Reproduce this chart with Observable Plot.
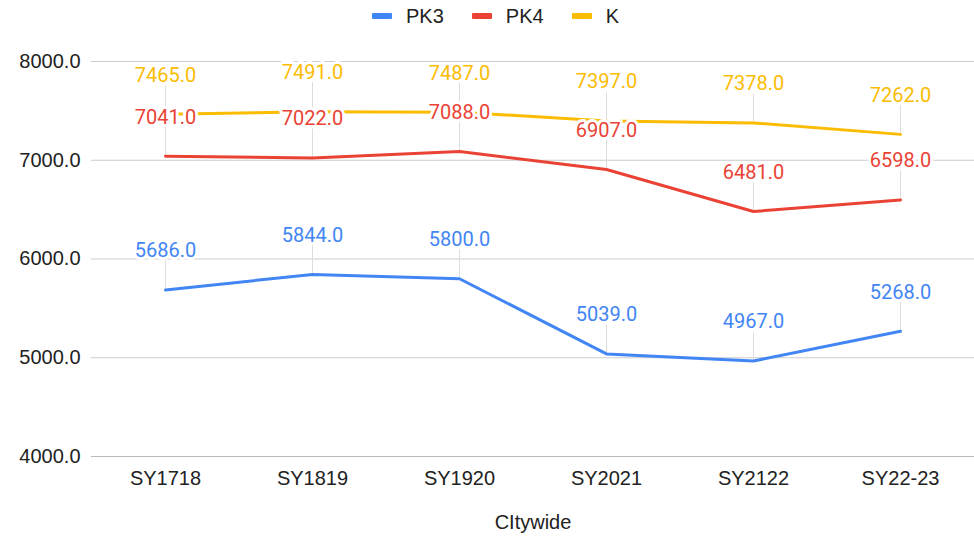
<!DOCTYPE html>
<html><head><meta charset="utf-8">
<script src="https://cdn.jsdelivr.net/npm/d3@7"></script>
<script src="https://cdn.jsdelivr.net/npm/@observablehq/plot@0.6"></script>
<style>
body{margin:0;background:#fff;font-family:"Liberation Sans",Arial,sans-serif;}
#legend{height:34px;display:flex;align-items:center;justify-content:center;font-size:20px;color:#222;padding-left:17px;padding-bottom:2px;box-sizing:border-box;}
.item{display:flex;align-items:center;margin:0 14px;}
.sw{width:20px;height:6px;border-radius:1px;margin-right:14px;}
</style></head><body>
<div id="legend"></div><div id="chart"></div>
<script>
const years = ["SY1718","SY1819","SY1920","SY2021","SY2122","SY22-23"];
const pk3 = [5686, 5844, 5800, 5039, 4967, 5268];
const pk4 = [7041, 7022, 7088, 6907, 6481, 6598];
const kVals = [7465, 7491, 7487, 7397, 7378, 7262];
const seriesNames = ["PK3","PK4","K"];
const colors = ["#4285f4","#ea4335","#fbbc04"];
const yTicks = [4000,5000,6000,7000,8000];
const xTitle = "CItywide";

const seriesVals = [pk3, pk4, kVals];
const data = [];
seriesNames.forEach((s, si) => years.forEach((yr, i) => data.push({year: yr, series: s, value: seriesVals[si][i]})));

const legend = document.getElementById("legend");
seriesNames.forEach((s, i) => {
  const it = document.createElement("div"); it.className = "item";
  const sw = document.createElement("div"); sw.className = "sw"; sw.style.background = colors[i];
  const tx = document.createElement("span"); tx.textContent = s;
  it.appendChild(sw); it.appendChild(tx); legend.appendChild(it);
});

const chart = Plot.plot({
  width: 974, height: 507,
  marginTop: 27, marginBottom: 85, marginLeft: 91, marginRight: 0,
  style: {fontFamily: "Liberation Sans, Arial, sans-serif", fontSize: "20px", color: "#222", background: "#fff", overflow: "visible"},
  x: {type: "point", domain: years, padding: 0.5, label: null},
  y: {domain: [4000, 8000], label: null},
  color: {domain: seriesNames, range: colors},
  marks: [
    Plot.ruleY(yTicks, {stroke: d => d === 4000 ? "#bbb" : "#ccc", strokeWidth: 1}),
    Plot.ruleX(data, {x: "year", y1: "value", y2: "value", insetTop: -29, stroke: "#ddd", strokeWidth: 1}),
    Plot.line(data, {x: "year", y: "value", z: "series", stroke: "series", strokeWidth: 3}),
    Plot.text(data, {x: "year", y: "value", text: d => d.value.toFixed(1), fill: "series", dy: -39, fontSize: 20, fontFamily: "Roboto", stroke: "white", strokeWidth: 6}),
    Plot.axisY({ticks: yTicks, tickSize: 0, tickPadding: 11, tickFormat: d => d.toFixed(1), label: null}),
    Plot.axisX({tickSize: 0, tickPadding: 14, label: null}),
    Plot.text([xTitle], {frameAnchor: "bottom", dy: 72, fontSize: 20})
  ]
});
document.getElementById("chart").appendChild(chart);
</script>
</body></html>
